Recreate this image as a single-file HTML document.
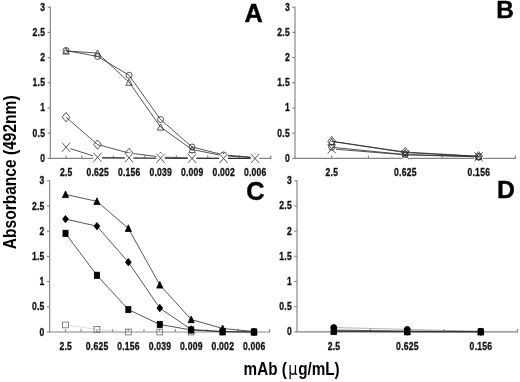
<!DOCTYPE html>
<html><head><meta charset="utf-8"><title>Figure</title>
<style>html,body{margin:0;padding:0;background:#fff;}svg{display:block;}</style></head>
<body><svg width="520" height="382" viewBox="0 0 520 382">
<rect width="520" height="382" fill="#fff"/>
<path d="M50.30,6.70 V158.35 H271.30" fill="none" stroke="#838383" stroke-width="1.15"/>
<path d="M47.60,158.35 H50.30" stroke="#838383" stroke-width="1.15"/>
<text transform="translate(45.20,161.85) scale(0.735,1)" text-anchor="end" font-size="11.7" font-family="Liberation Sans, Arial, sans-serif" font-weight="bold" fill="#111" stroke="#111" stroke-width="0.35" letter-spacing="0.32">0</text>
<path d="M47.60,133.16 H50.30" stroke="#838383" stroke-width="1.15"/>
<text transform="translate(45.20,136.66) scale(0.735,1)" text-anchor="end" font-size="11.7" font-family="Liberation Sans, Arial, sans-serif" font-weight="bold" fill="#111" stroke="#111" stroke-width="0.35" letter-spacing="0.32">0.5</text>
<path d="M47.60,107.97 H50.30" stroke="#838383" stroke-width="1.15"/>
<text transform="translate(45.20,111.47) scale(0.735,1)" text-anchor="end" font-size="11.7" font-family="Liberation Sans, Arial, sans-serif" font-weight="bold" fill="#111" stroke="#111" stroke-width="0.35" letter-spacing="0.32">1</text>
<path d="M47.60,82.77 H50.30" stroke="#838383" stroke-width="1.15"/>
<text transform="translate(45.20,86.27) scale(0.735,1)" text-anchor="end" font-size="11.7" font-family="Liberation Sans, Arial, sans-serif" font-weight="bold" fill="#111" stroke="#111" stroke-width="0.35" letter-spacing="0.32">1.5</text>
<path d="M47.60,57.58 H50.30" stroke="#838383" stroke-width="1.15"/>
<text transform="translate(45.20,61.08) scale(0.735,1)" text-anchor="end" font-size="11.7" font-family="Liberation Sans, Arial, sans-serif" font-weight="bold" fill="#111" stroke="#111" stroke-width="0.35" letter-spacing="0.32">2</text>
<path d="M47.60,32.39 H50.30" stroke="#838383" stroke-width="1.15"/>
<text transform="translate(45.20,35.89) scale(0.735,1)" text-anchor="end" font-size="11.7" font-family="Liberation Sans, Arial, sans-serif" font-weight="bold" fill="#111" stroke="#111" stroke-width="0.35" letter-spacing="0.32">2.5</text>
<path d="M47.60,7.20 H50.30" stroke="#838383" stroke-width="1.15"/>
<text transform="translate(45.20,10.70) scale(0.735,1)" text-anchor="end" font-size="11.7" font-family="Liberation Sans, Arial, sans-serif" font-weight="bold" fill="#111" stroke="#111" stroke-width="0.35" letter-spacing="0.32">3</text>
<path d="M66.05,155.55 V158.35" stroke="#838383" stroke-width="1.15"/>
<path d="M81.80,155.55 V158.35" stroke="#838383" stroke-width="1.15"/>
<path d="M97.55,155.55 V158.35" stroke="#838383" stroke-width="1.15"/>
<path d="M113.30,155.55 V158.35" stroke="#838383" stroke-width="1.15"/>
<path d="M129.05,155.55 V158.35" stroke="#838383" stroke-width="1.15"/>
<path d="M144.80,155.55 V158.35" stroke="#838383" stroke-width="1.15"/>
<path d="M160.55,155.55 V158.35" stroke="#838383" stroke-width="1.15"/>
<path d="M176.30,155.55 V158.35" stroke="#838383" stroke-width="1.15"/>
<path d="M192.05,155.55 V158.35" stroke="#838383" stroke-width="1.15"/>
<path d="M207.80,155.55 V158.35" stroke="#838383" stroke-width="1.15"/>
<path d="M223.55,155.55 V158.35" stroke="#838383" stroke-width="1.15"/>
<path d="M239.30,155.55 V158.35" stroke="#838383" stroke-width="1.15"/>
<path d="M255.05,155.55 V158.35" stroke="#838383" stroke-width="1.15"/>
<path d="M270.80,155.55 V158.35" stroke="#838383" stroke-width="1.15"/>
<text transform="translate(66.25,175.80) scale(0.735,1)" text-anchor="middle" font-size="11.7" font-family="Liberation Sans, Arial, sans-serif" font-weight="bold" fill="#111" stroke="#111" stroke-width="0.35" letter-spacing="0.32">2.5</text>
<text transform="translate(97.75,175.80) scale(0.735,1)" text-anchor="middle" font-size="11.7" font-family="Liberation Sans, Arial, sans-serif" font-weight="bold" fill="#111" stroke="#111" stroke-width="0.35" letter-spacing="0.32">0.625</text>
<text transform="translate(129.25,175.80) scale(0.735,1)" text-anchor="middle" font-size="11.7" font-family="Liberation Sans, Arial, sans-serif" font-weight="bold" fill="#111" stroke="#111" stroke-width="0.35" letter-spacing="0.32">0.156</text>
<text transform="translate(160.75,175.80) scale(0.735,1)" text-anchor="middle" font-size="11.7" font-family="Liberation Sans, Arial, sans-serif" font-weight="bold" fill="#111" stroke="#111" stroke-width="0.35" letter-spacing="0.32">0.039</text>
<text transform="translate(192.25,175.80) scale(0.735,1)" text-anchor="middle" font-size="11.7" font-family="Liberation Sans, Arial, sans-serif" font-weight="bold" fill="#111" stroke="#111" stroke-width="0.35" letter-spacing="0.32">0.009</text>
<text transform="translate(223.75,175.80) scale(0.735,1)" text-anchor="middle" font-size="11.7" font-family="Liberation Sans, Arial, sans-serif" font-weight="bold" fill="#111" stroke="#111" stroke-width="0.35" letter-spacing="0.32">0.002</text>
<text transform="translate(255.25,175.80) scale(0.735,1)" text-anchor="middle" font-size="11.7" font-family="Liberation Sans, Arial, sans-serif" font-weight="bold" fill="#111" stroke="#111" stroke-width="0.35" letter-spacing="0.32">0.006</text>
<path d="M66.05,117.19 L97.55,144.60 L129.05,153.01 L160.55,156.99 L192.05,158.05 L223.55,158.35 L255.05,158.35" fill="none" stroke="#2a2a2a" stroke-width="0.8"/>
<path d="M66.05,112.49 L69.95,117.19 L66.05,121.89 L62.15,117.19 Z" fill="none" stroke="#2a2a2a" stroke-width="0.8"/>
<path d="M97.55,139.90 L101.45,144.60 L97.55,149.30 L93.65,144.60 Z" fill="none" stroke="#2a2a2a" stroke-width="0.8"/>
<path d="M129.05,148.31 L132.95,153.01 L129.05,157.71 L125.15,153.01 Z" fill="none" stroke="#2a2a2a" stroke-width="0.8"/>
<path d="M160.55,152.29 L164.45,156.99 L160.55,161.69 L156.65,156.99 Z" fill="none" stroke="#2a2a2a" stroke-width="0.8"/>
<path d="M192.05,153.35 L195.95,158.05 L192.05,162.75 L188.15,158.05 Z" fill="none" stroke="#2a2a2a" stroke-width="0.8"/>
<path d="M223.55,153.65 L227.45,158.35 L223.55,163.05 L219.65,158.35 Z" fill="none" stroke="#2a2a2a" stroke-width="0.8"/>
<path d="M255.05,153.65 L258.95,158.35 L255.05,163.05 L251.15,158.35 Z" fill="none" stroke="#2a2a2a" stroke-width="0.8"/>
<path d="M66.05,51.03 L97.55,53.05 L129.05,82.22 L160.55,127.01 L192.05,149.53 L223.55,155.83 L255.05,157.75" fill="none" stroke="#2a2a2a" stroke-width="0.8"/>
<path d="M66.05,47.93 L69.25,54.13 L62.85,54.13 Z" fill="none" stroke="#2a2a2a" stroke-width="0.8"/>
<path d="M97.55,49.95 L100.75,56.15 L94.35,56.15 Z" fill="none" stroke="#2a2a2a" stroke-width="0.8"/>
<path d="M129.05,79.12 L132.25,85.32 L125.85,85.32 Z" fill="none" stroke="#2a2a2a" stroke-width="0.8"/>
<path d="M160.55,123.91 L163.75,130.11 L157.35,130.11 Z" fill="none" stroke="#2a2a2a" stroke-width="0.8"/>
<path d="M192.05,146.43 L195.25,152.63 L188.85,152.63 Z" fill="none" stroke="#2a2a2a" stroke-width="0.8"/>
<path d="M223.55,152.73 L226.75,158.93 L220.35,158.93 Z" fill="none" stroke="#2a2a2a" stroke-width="0.8"/>
<path d="M255.05,154.65 L258.25,160.85 L251.85,160.85 Z" fill="none" stroke="#2a2a2a" stroke-width="0.8"/>
<path d="M66.05,50.48 L97.55,56.47 L129.05,75.22 L160.55,119.50 L192.05,147.01 L223.55,154.92 L255.05,157.49" fill="none" stroke="#2a2a2a" stroke-width="0.8"/>
<circle cx="66.05" cy="50.48" r="3.0" fill="none" stroke="#2a2a2a" stroke-width="0.8"/>
<circle cx="97.55" cy="56.47" r="3.0" fill="none" stroke="#2a2a2a" stroke-width="0.8"/>
<circle cx="129.05" cy="75.22" r="3.0" fill="none" stroke="#2a2a2a" stroke-width="0.8"/>
<circle cx="160.55" cy="119.50" r="3.0" fill="none" stroke="#2a2a2a" stroke-width="0.8"/>
<circle cx="192.05" cy="147.01" r="3.0" fill="none" stroke="#2a2a2a" stroke-width="0.8"/>
<circle cx="223.55" cy="154.92" r="3.0" fill="none" stroke="#2a2a2a" stroke-width="0.8"/>
<circle cx="255.05" cy="157.49" r="3.0" fill="none" stroke="#2a2a2a" stroke-width="0.8"/>
<path d="M66.05,147.22 L97.55,157.34 L129.05,157.75 L160.55,158.25 L192.05,158.45 L223.55,158.45 L255.05,158.45" fill="none" stroke="#2a2a2a" stroke-width="0.8"/>
<rect x="61.75" y="142.52" width="8.6" height="9.4" fill="#fff"/>
<path d="M61.95,142.62 L70.15,151.82 M61.95,151.82 L70.15,142.62" fill="none" stroke="#2a2a2a" stroke-width="0.8"/>
<rect x="93.25" y="152.64" width="8.6" height="9.4" fill="#fff"/>
<path d="M93.45,152.74 L101.65,161.94 M93.45,161.94 L101.65,152.74" fill="none" stroke="#2a2a2a" stroke-width="0.8"/>
<rect x="124.75" y="153.05" width="8.6" height="9.4" fill="#fff"/>
<path d="M124.95,153.15 L133.15,162.35 M124.95,162.35 L133.15,153.15" fill="none" stroke="#2a2a2a" stroke-width="0.8"/>
<rect x="156.25" y="153.55" width="8.6" height="9.4" fill="#fff"/>
<path d="M156.45,153.65 L164.65,162.85 M156.45,162.85 L164.65,153.65" fill="none" stroke="#2a2a2a" stroke-width="0.8"/>
<rect x="187.75" y="153.75" width="8.6" height="9.4" fill="#fff"/>
<path d="M187.95,153.85 L196.15,163.05 M187.95,163.05 L196.15,153.85" fill="none" stroke="#2a2a2a" stroke-width="0.8"/>
<rect x="219.25" y="153.75" width="8.6" height="9.4" fill="#fff"/>
<path d="M219.45,153.85 L227.65,163.05 M219.45,163.05 L227.65,153.85" fill="none" stroke="#2a2a2a" stroke-width="0.8"/>
<rect x="250.75" y="153.75" width="8.6" height="9.4" fill="#fff"/>
<path d="M250.95,153.85 L259.15,163.05 M250.95,163.05 L259.15,153.85" fill="none" stroke="#2a2a2a" stroke-width="0.8"/>
<path d="M295.00,6.70 V158.35 H515.85" fill="none" stroke="#838383" stroke-width="1.15"/>
<path d="M292.30,158.35 H295.00" stroke="#838383" stroke-width="1.15"/>
<text transform="translate(289.90,161.85) scale(0.735,1)" text-anchor="end" font-size="11.7" font-family="Liberation Sans, Arial, sans-serif" font-weight="bold" fill="#111" stroke="#111" stroke-width="0.35" letter-spacing="0.32">0</text>
<path d="M292.30,133.16 H295.00" stroke="#838383" stroke-width="1.15"/>
<text transform="translate(289.90,136.66) scale(0.735,1)" text-anchor="end" font-size="11.7" font-family="Liberation Sans, Arial, sans-serif" font-weight="bold" fill="#111" stroke="#111" stroke-width="0.35" letter-spacing="0.32">0.5</text>
<path d="M292.30,107.97 H295.00" stroke="#838383" stroke-width="1.15"/>
<text transform="translate(289.90,111.47) scale(0.735,1)" text-anchor="end" font-size="11.7" font-family="Liberation Sans, Arial, sans-serif" font-weight="bold" fill="#111" stroke="#111" stroke-width="0.35" letter-spacing="0.32">1</text>
<path d="M292.30,82.77 H295.00" stroke="#838383" stroke-width="1.15"/>
<text transform="translate(289.90,86.27) scale(0.735,1)" text-anchor="end" font-size="11.7" font-family="Liberation Sans, Arial, sans-serif" font-weight="bold" fill="#111" stroke="#111" stroke-width="0.35" letter-spacing="0.32">1.5</text>
<path d="M292.30,57.58 H295.00" stroke="#838383" stroke-width="1.15"/>
<text transform="translate(289.90,61.08) scale(0.735,1)" text-anchor="end" font-size="11.7" font-family="Liberation Sans, Arial, sans-serif" font-weight="bold" fill="#111" stroke="#111" stroke-width="0.35" letter-spacing="0.32">2</text>
<path d="M292.30,32.39 H295.00" stroke="#838383" stroke-width="1.15"/>
<text transform="translate(289.90,35.89) scale(0.735,1)" text-anchor="end" font-size="11.7" font-family="Liberation Sans, Arial, sans-serif" font-weight="bold" fill="#111" stroke="#111" stroke-width="0.35" letter-spacing="0.32">2.5</text>
<path d="M292.30,7.20 H295.00" stroke="#838383" stroke-width="1.15"/>
<text transform="translate(289.90,10.70) scale(0.735,1)" text-anchor="end" font-size="11.7" font-family="Liberation Sans, Arial, sans-serif" font-weight="bold" fill="#111" stroke="#111" stroke-width="0.35" letter-spacing="0.32">3</text>
<path d="M331.73,155.55 V158.35" stroke="#838383" stroke-width="1.15"/>
<path d="M368.45,155.55 V158.35" stroke="#838383" stroke-width="1.15"/>
<path d="M405.18,155.55 V158.35" stroke="#838383" stroke-width="1.15"/>
<path d="M441.90,155.55 V158.35" stroke="#838383" stroke-width="1.15"/>
<path d="M478.62,155.55 V158.35" stroke="#838383" stroke-width="1.15"/>
<path d="M515.35,155.55 V158.35" stroke="#838383" stroke-width="1.15"/>
<text transform="translate(331.93,175.90) scale(0.735,1)" text-anchor="middle" font-size="11.7" font-family="Liberation Sans, Arial, sans-serif" font-weight="bold" fill="#111" stroke="#111" stroke-width="0.35" letter-spacing="0.32">2.5</text>
<text transform="translate(405.38,175.90) scale(0.735,1)" text-anchor="middle" font-size="11.7" font-family="Liberation Sans, Arial, sans-serif" font-weight="bold" fill="#111" stroke="#111" stroke-width="0.35" letter-spacing="0.32">0.625</text>
<text transform="translate(478.82,175.90) scale(0.735,1)" text-anchor="middle" font-size="11.7" font-family="Liberation Sans, Arial, sans-serif" font-weight="bold" fill="#111" stroke="#111" stroke-width="0.35" letter-spacing="0.32">0.156</text>
<path d="M331.73,148.93 L405.18,154.82 L478.62,156.84" fill="none" stroke="#2a2a2a" stroke-width="0.8"/>
<rect x="327.43" y="144.23" width="8.6" height="9.4" fill="#fff"/>
<path d="M327.62,144.33 L335.83,153.53 M327.62,153.53 L335.83,144.33" fill="none" stroke="#2a2a2a" stroke-width="0.8"/>
<rect x="400.88" y="150.12" width="8.6" height="9.4" fill="#fff"/>
<path d="M401.07,150.22 L409.28,159.42 M401.07,159.42 L409.28,150.22" fill="none" stroke="#2a2a2a" stroke-width="0.8"/>
<rect x="474.32" y="152.14" width="8.6" height="9.4" fill="#fff"/>
<path d="M474.52,152.24 L482.73,161.44 M474.52,161.44 L482.73,152.24" fill="none" stroke="#2a2a2a" stroke-width="0.8"/>
<path d="M331.73,147.27 L405.18,154.57 L478.62,156.59" fill="none" stroke="#2a2a2a" stroke-width="0.8"/>
<circle cx="331.73" cy="147.27" r="3.0" fill="none" stroke="#2a2a2a" stroke-width="0.8"/>
<circle cx="405.18" cy="154.57" r="3.0" fill="none" stroke="#2a2a2a" stroke-width="0.8"/>
<circle cx="478.62" cy="156.59" r="3.0" fill="none" stroke="#2a2a2a" stroke-width="0.8"/>
<path d="M331.73,141.47 L405.18,152.56 L478.62,156.33" fill="none" stroke="#2a2a2a" stroke-width="0.8"/>
<path d="M331.73,138.37 L334.93,144.57 L328.53,144.57 Z" fill="none" stroke="#2a2a2a" stroke-width="0.8"/>
<path d="M405.18,149.46 L408.38,155.66 L401.98,155.66 Z" fill="none" stroke="#2a2a2a" stroke-width="0.8"/>
<path d="M478.62,153.23 L481.82,159.43 L475.43,159.43 Z" fill="none" stroke="#2a2a2a" stroke-width="0.8"/>
<path d="M331.73,141.22 L405.18,152.05 L478.62,156.33" fill="none" stroke="#2a2a2a" stroke-width="0.8"/>
<path d="M331.73,136.52 L335.62,141.22 L331.73,145.92 L327.83,141.22 Z" fill="none" stroke="#2a2a2a" stroke-width="0.8"/>
<path d="M405.18,147.35 L409.07,152.05 L405.18,156.75 L401.28,152.05 Z" fill="none" stroke="#2a2a2a" stroke-width="0.8"/>
<path d="M478.62,151.63 L482.52,156.33 L478.62,161.03 L474.73,156.33 Z" fill="none" stroke="#2a2a2a" stroke-width="0.8"/>
<path d="M49.70,180.30 V332.00 H270.14" fill="none" stroke="#838383" stroke-width="1.15"/>
<path d="M47.00,332.00 H49.70" stroke="#838383" stroke-width="1.15"/>
<text transform="translate(44.60,335.50) scale(0.735,1)" text-anchor="end" font-size="11.7" font-family="Liberation Sans, Arial, sans-serif" font-weight="bold" fill="#111" stroke="#111" stroke-width="0.35" letter-spacing="0.32">0</text>
<path d="M47.00,306.80 H49.70" stroke="#838383" stroke-width="1.15"/>
<text transform="translate(44.60,310.30) scale(0.735,1)" text-anchor="end" font-size="11.7" font-family="Liberation Sans, Arial, sans-serif" font-weight="bold" fill="#111" stroke="#111" stroke-width="0.35" letter-spacing="0.32">0.5</text>
<path d="M47.00,281.60 H49.70" stroke="#838383" stroke-width="1.15"/>
<text transform="translate(44.60,285.10) scale(0.735,1)" text-anchor="end" font-size="11.7" font-family="Liberation Sans, Arial, sans-serif" font-weight="bold" fill="#111" stroke="#111" stroke-width="0.35" letter-spacing="0.32">1</text>
<path d="M47.00,256.40 H49.70" stroke="#838383" stroke-width="1.15"/>
<text transform="translate(44.60,259.90) scale(0.735,1)" text-anchor="end" font-size="11.7" font-family="Liberation Sans, Arial, sans-serif" font-weight="bold" fill="#111" stroke="#111" stroke-width="0.35" letter-spacing="0.32">1.5</text>
<path d="M47.00,231.20 H49.70" stroke="#838383" stroke-width="1.15"/>
<text transform="translate(44.60,234.70) scale(0.735,1)" text-anchor="end" font-size="11.7" font-family="Liberation Sans, Arial, sans-serif" font-weight="bold" fill="#111" stroke="#111" stroke-width="0.35" letter-spacing="0.32">2</text>
<path d="M47.00,206.00 H49.70" stroke="#838383" stroke-width="1.15"/>
<text transform="translate(44.60,209.50) scale(0.735,1)" text-anchor="end" font-size="11.7" font-family="Liberation Sans, Arial, sans-serif" font-weight="bold" fill="#111" stroke="#111" stroke-width="0.35" letter-spacing="0.32">2.5</text>
<path d="M47.00,180.80 H49.70" stroke="#838383" stroke-width="1.15"/>
<text transform="translate(44.60,184.30) scale(0.735,1)" text-anchor="end" font-size="11.7" font-family="Liberation Sans, Arial, sans-serif" font-weight="bold" fill="#111" stroke="#111" stroke-width="0.35" letter-spacing="0.32">3</text>
<path d="M65.41,329.20 V332.00" stroke="#838383" stroke-width="1.15"/>
<path d="M81.12,329.20 V332.00" stroke="#838383" stroke-width="1.15"/>
<path d="M96.83,329.20 V332.00" stroke="#838383" stroke-width="1.15"/>
<path d="M112.54,329.20 V332.00" stroke="#838383" stroke-width="1.15"/>
<path d="M128.25,329.20 V332.00" stroke="#838383" stroke-width="1.15"/>
<path d="M143.96,329.20 V332.00" stroke="#838383" stroke-width="1.15"/>
<path d="M159.67,329.20 V332.00" stroke="#838383" stroke-width="1.15"/>
<path d="M175.38,329.20 V332.00" stroke="#838383" stroke-width="1.15"/>
<path d="M191.09,329.20 V332.00" stroke="#838383" stroke-width="1.15"/>
<path d="M206.80,329.20 V332.00" stroke="#838383" stroke-width="1.15"/>
<path d="M222.51,329.20 V332.00" stroke="#838383" stroke-width="1.15"/>
<path d="M238.22,329.20 V332.00" stroke="#838383" stroke-width="1.15"/>
<path d="M253.93,329.20 V332.00" stroke="#838383" stroke-width="1.15"/>
<path d="M269.64,329.20 V332.00" stroke="#838383" stroke-width="1.15"/>
<text transform="translate(65.71,350.20) scale(0.735,1)" text-anchor="middle" font-size="11.7" font-family="Liberation Sans, Arial, sans-serif" font-weight="bold" fill="#111" stroke="#111" stroke-width="0.35" letter-spacing="0.32">2.5</text>
<text transform="translate(97.13,350.20) scale(0.735,1)" text-anchor="middle" font-size="11.7" font-family="Liberation Sans, Arial, sans-serif" font-weight="bold" fill="#111" stroke="#111" stroke-width="0.35" letter-spacing="0.32">0.625</text>
<text transform="translate(128.55,350.20) scale(0.735,1)" text-anchor="middle" font-size="11.7" font-family="Liberation Sans, Arial, sans-serif" font-weight="bold" fill="#111" stroke="#111" stroke-width="0.35" letter-spacing="0.32">0.156</text>
<text transform="translate(159.97,350.20) scale(0.735,1)" text-anchor="middle" font-size="11.7" font-family="Liberation Sans, Arial, sans-serif" font-weight="bold" fill="#111" stroke="#111" stroke-width="0.35" letter-spacing="0.32">0.039</text>
<text transform="translate(191.39,350.20) scale(0.735,1)" text-anchor="middle" font-size="11.7" font-family="Liberation Sans, Arial, sans-serif" font-weight="bold" fill="#111" stroke="#111" stroke-width="0.35" letter-spacing="0.32">0.009</text>
<text transform="translate(222.81,350.20) scale(0.735,1)" text-anchor="middle" font-size="11.7" font-family="Liberation Sans, Arial, sans-serif" font-weight="bold" fill="#111" stroke="#111" stroke-width="0.35" letter-spacing="0.32">0.002</text>
<text transform="translate(254.23,350.20) scale(0.735,1)" text-anchor="middle" font-size="11.7" font-family="Liberation Sans, Arial, sans-serif" font-weight="bold" fill="#111" stroke="#111" stroke-width="0.35" letter-spacing="0.32">0.006</text>
<path d="M65.51,324.94 L96.93,329.48 L128.35,332.00 L159.77,332.00 L191.19,332.00 L222.61,332.00 L254.03,332.00" fill="none" stroke="#d4d4d4" stroke-width="0.8"/>
<rect x="62.61" y="322.04" width="5.8" height="5.8" fill="none" stroke="#666" stroke-width="0.8"/>
<rect x="94.03" y="326.58" width="5.8" height="5.8" fill="none" stroke="#666" stroke-width="0.8"/>
<rect x="125.45" y="329.10" width="5.8" height="5.8" fill="none" stroke="#666" stroke-width="0.8"/>
<rect x="156.87" y="329.10" width="5.8" height="5.8" fill="none" stroke="#666" stroke-width="0.8"/>
<rect x="188.29" y="329.10" width="5.8" height="5.8" fill="none" stroke="#666" stroke-width="0.8"/>
<rect x="219.71" y="329.10" width="5.8" height="5.8" fill="none" stroke="#666" stroke-width="0.8"/>
<rect x="251.13" y="329.10" width="5.8" height="5.8" fill="none" stroke="#666" stroke-width="0.8"/>
<path d="M65.51,194.41 L96.93,201.36 L128.35,228.33 L159.77,284.88 L191.19,319.50 L222.61,328.47 L254.03,331.50" fill="none" stroke="#2a2a2a" stroke-width="0.8"/>
<path d="M65.51,190.91 L68.61,197.61 L62.41,197.61 Z" fill="#000" stroke="#000" stroke-width="0.8"/>
<path d="M96.93,197.86 L100.03,204.56 L93.83,204.56 Z" fill="#000" stroke="#000" stroke-width="0.8"/>
<path d="M128.35,224.83 L131.45,231.53 L125.25,231.53 Z" fill="#000" stroke="#000" stroke-width="0.8"/>
<path d="M159.77,281.38 L162.87,288.08 L156.67,288.08 Z" fill="#000" stroke="#000" stroke-width="0.8"/>
<path d="M191.19,316.00 L194.29,322.70 L188.09,322.70 Z" fill="#000" stroke="#000" stroke-width="0.8"/>
<path d="M222.61,324.97 L225.71,331.67 L219.51,331.67 Z" fill="#000" stroke="#000" stroke-width="0.8"/>
<path d="M254.03,328.00 L257.13,334.70 L250.93,334.70 Z" fill="#000" stroke="#000" stroke-width="0.8"/>
<path d="M65.51,219.10 L96.93,226.16 L128.35,262.20 L159.77,308.06 L191.19,329.48 L222.61,331.50 L254.03,332.00" fill="none" stroke="#2a2a2a" stroke-width="0.8"/>
<path d="M65.51,215.40 L68.41,219.10 L65.51,222.80 L62.61,219.10 Z" fill="#000" stroke="#000" stroke-width="0.8"/>
<path d="M96.93,222.46 L99.83,226.16 L96.93,229.86 L94.03,226.16 Z" fill="#000" stroke="#000" stroke-width="0.8"/>
<path d="M128.35,258.50 L131.25,262.20 L128.35,265.90 L125.45,262.20 Z" fill="#000" stroke="#000" stroke-width="0.8"/>
<path d="M159.77,304.36 L162.67,308.06 L159.77,311.76 L156.87,308.06 Z" fill="#000" stroke="#000" stroke-width="0.8"/>
<path d="M191.19,325.78 L194.09,329.48 L191.19,333.18 L188.29,329.48 Z" fill="#000" stroke="#000" stroke-width="0.8"/>
<path d="M222.61,327.80 L225.51,331.50 L222.61,335.20 L219.71,331.50 Z" fill="#000" stroke="#000" stroke-width="0.8"/>
<path d="M254.03,328.30 L256.93,332.00 L254.03,335.70 L251.13,332.00 Z" fill="#000" stroke="#000" stroke-width="0.8"/>
<path d="M65.51,233.32 L96.93,275.30 L128.35,309.57 L159.77,324.44 L191.19,329.98 L222.61,331.75 L254.03,332.00" fill="none" stroke="#2a2a2a" stroke-width="0.8"/>
<rect x="62.96" y="230.22" width="5.1" height="6.2" fill="#000" stroke="#000" stroke-width="0.8"/>
<rect x="94.38" y="272.20" width="5.1" height="6.2" fill="#000" stroke="#000" stroke-width="0.8"/>
<rect x="125.80" y="306.47" width="5.1" height="6.2" fill="#000" stroke="#000" stroke-width="0.8"/>
<rect x="157.22" y="321.34" width="5.1" height="6.2" fill="#000" stroke="#000" stroke-width="0.8"/>
<rect x="188.64" y="326.88" width="5.1" height="6.2" fill="#000" stroke="#000" stroke-width="0.8"/>
<rect x="220.06" y="328.65" width="5.1" height="6.2" fill="#000" stroke="#000" stroke-width="0.8"/>
<rect x="251.48" y="328.90" width="5.1" height="6.2" fill="#000" stroke="#000" stroke-width="0.8"/>
<path d="M297.00,180.30 V331.80 H518.00" fill="none" stroke="#838383" stroke-width="1.15"/>
<path d="M294.30,331.80 H297.00" stroke="#838383" stroke-width="1.15"/>
<text transform="translate(291.90,335.30) scale(0.735,1)" text-anchor="end" font-size="11.7" font-family="Liberation Sans, Arial, sans-serif" font-weight="bold" fill="#111" stroke="#111" stroke-width="0.35" letter-spacing="0.32">0</text>
<path d="M294.30,306.63 H297.00" stroke="#838383" stroke-width="1.15"/>
<text transform="translate(291.90,310.13) scale(0.735,1)" text-anchor="end" font-size="11.7" font-family="Liberation Sans, Arial, sans-serif" font-weight="bold" fill="#111" stroke="#111" stroke-width="0.35" letter-spacing="0.32">0.5</text>
<path d="M294.30,281.47 H297.00" stroke="#838383" stroke-width="1.15"/>
<text transform="translate(291.90,284.97) scale(0.735,1)" text-anchor="end" font-size="11.7" font-family="Liberation Sans, Arial, sans-serif" font-weight="bold" fill="#111" stroke="#111" stroke-width="0.35" letter-spacing="0.32">1</text>
<path d="M294.30,256.30 H297.00" stroke="#838383" stroke-width="1.15"/>
<text transform="translate(291.90,259.80) scale(0.735,1)" text-anchor="end" font-size="11.7" font-family="Liberation Sans, Arial, sans-serif" font-weight="bold" fill="#111" stroke="#111" stroke-width="0.35" letter-spacing="0.32">1.5</text>
<path d="M294.30,231.13 H297.00" stroke="#838383" stroke-width="1.15"/>
<text transform="translate(291.90,234.63) scale(0.735,1)" text-anchor="end" font-size="11.7" font-family="Liberation Sans, Arial, sans-serif" font-weight="bold" fill="#111" stroke="#111" stroke-width="0.35" letter-spacing="0.32">2</text>
<path d="M294.30,205.97 H297.00" stroke="#838383" stroke-width="1.15"/>
<text transform="translate(291.90,209.47) scale(0.735,1)" text-anchor="end" font-size="11.7" font-family="Liberation Sans, Arial, sans-serif" font-weight="bold" fill="#111" stroke="#111" stroke-width="0.35" letter-spacing="0.32">2.5</text>
<path d="M294.30,180.80 H297.00" stroke="#838383" stroke-width="1.15"/>
<text transform="translate(291.90,184.30) scale(0.735,1)" text-anchor="end" font-size="11.7" font-family="Liberation Sans, Arial, sans-serif" font-weight="bold" fill="#111" stroke="#111" stroke-width="0.35" letter-spacing="0.32">3</text>
<path d="M333.75,329.00 V331.80" stroke="#838383" stroke-width="1.15"/>
<path d="M370.50,329.00 V331.80" stroke="#838383" stroke-width="1.15"/>
<path d="M407.25,329.00 V331.80" stroke="#838383" stroke-width="1.15"/>
<path d="M444.00,329.00 V331.80" stroke="#838383" stroke-width="1.15"/>
<path d="M480.75,329.00 V331.80" stroke="#838383" stroke-width="1.15"/>
<path d="M517.50,329.00 V331.80" stroke="#838383" stroke-width="1.15"/>
<text transform="translate(333.95,350.00) scale(0.735,1)" text-anchor="middle" font-size="11.7" font-family="Liberation Sans, Arial, sans-serif" font-weight="bold" fill="#111" stroke="#111" stroke-width="0.35" letter-spacing="0.32">2.5</text>
<text transform="translate(407.45,350.00) scale(0.735,1)" text-anchor="middle" font-size="11.7" font-family="Liberation Sans, Arial, sans-serif" font-weight="bold" fill="#111" stroke="#111" stroke-width="0.35" letter-spacing="0.32">0.625</text>
<text transform="translate(480.95,350.00) scale(0.735,1)" text-anchor="middle" font-size="11.7" font-family="Liberation Sans, Arial, sans-serif" font-weight="bold" fill="#111" stroke="#111" stroke-width="0.35" letter-spacing="0.32">0.156</text>
<path d="M333.75,327.52 L407.25,329.38 L480.75,331.30" fill="none" stroke="#a0a0a0" stroke-width="0.8"/>
<circle cx="333.75" cy="327.52" r="3.0" fill="#000" stroke="#000" stroke-width="0.8"/>
<circle cx="407.25" cy="329.38" r="3.0" fill="#000" stroke="#000" stroke-width="0.8"/>
<circle cx="480.75" cy="331.30" r="3.0" fill="#000" stroke="#000" stroke-width="0.8"/>
<path d="M333.75,330.04 L407.25,331.05 L480.75,331.55" fill="none" stroke="#444" stroke-width="0.8"/>
<path d="M333.75,326.54 L336.85,333.24 L330.65,333.24 Z" fill="#000" stroke="#000" stroke-width="0.8"/>
<path d="M407.25,327.55 L410.35,334.25 L404.15,334.25 Z" fill="#000" stroke="#000" stroke-width="0.8"/>
<path d="M480.75,328.05 L483.85,334.75 L477.65,334.75 Z" fill="#000" stroke="#000" stroke-width="0.8"/>
<path d="M333.75,330.79 L407.25,331.55 L480.75,331.80" fill="none" stroke="#2a2a2a" stroke-width="0.8"/>
<path d="M333.75,327.09 L336.65,330.79 L333.75,334.49 L330.85,330.79 Z" fill="#000" stroke="#000" stroke-width="0.8"/>
<path d="M407.25,327.85 L410.15,331.55 L407.25,335.25 L404.35,331.55 Z" fill="#000" stroke="#000" stroke-width="0.8"/>
<path d="M480.75,328.10 L483.65,331.80 L480.75,335.50 L477.85,331.80 Z" fill="#000" stroke="#000" stroke-width="0.8"/>
<path d="M333.75,331.55 L407.25,331.80 L480.75,331.80" fill="none" stroke="#2a2a2a" stroke-width="0.8"/>
<rect x="331.20" y="328.45" width="5.1" height="6.2" fill="#000" stroke="#000" stroke-width="0.8"/>
<rect x="404.70" y="328.70" width="5.1" height="6.2" fill="#000" stroke="#000" stroke-width="0.8"/>
<rect x="478.20" y="328.70" width="5.1" height="6.2" fill="#000" stroke="#000" stroke-width="0.8"/>
<text x="244.6" y="21.6" font-size="25.3" font-family="Liberation Sans, Arial, sans-serif" font-weight="bold" fill="#000" stroke="#000" stroke-width="0.4">A</text>
<text x="496.2" y="18.3" font-size="24.4" font-family="Liberation Sans, Arial, sans-serif" font-weight="bold" fill="#000" stroke="#000" stroke-width="0.4">B</text>
<text x="246.2" y="199.7" font-size="25.3" font-family="Liberation Sans, Arial, sans-serif" font-weight="bold" fill="#000" stroke="#000" stroke-width="0.4">C</text>
<text x="497" y="198" font-size="24.8" font-family="Liberation Sans, Arial, sans-serif" font-weight="bold" fill="#000" stroke="#000" stroke-width="0.4">D</text>
<text transform="translate(243.6,375.4) scale(0.825,1)" font-size="18.5" font-family="Liberation Sans, Arial, sans-serif" font-weight="bold" fill="#000">mAb (<tspan font-family="DejaVu Sans, sans-serif" font-weight="normal" font-size="17.5" dx="1.8">μ</tspan><tspan dx="0.9">g/mL)</tspan></text>
<text transform="translate(16.3,249.2) rotate(-90)" textLength="153.8" lengthAdjust="spacingAndGlyphs" font-size="18.5" font-family="Liberation Sans, Arial, sans-serif" font-weight="bold" fill="#000">Absorbance (492nm)</text>
</svg></body></html>
